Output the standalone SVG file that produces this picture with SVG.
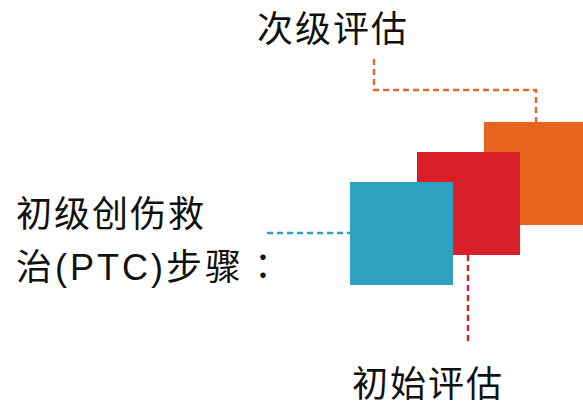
<svg xmlns="http://www.w3.org/2000/svg" width="583" height="405" viewBox="0 0 583 405">
<style>
text{font-family:"Liberation Sans","Noto Sans CJK SC",sans-serif;font-size:36px;fill:#111}
.d{fill:none;stroke-width:2.4;stroke-dasharray:6 4}
</style>
<rect width="583" height="405" fill="#fff"/>
<g id="connectors">
<path class="d" stroke="#E8662A" d="M374 59V90H536V122"/>
<path class="d" stroke="#D92029" d="M468 255V342"/>
<path class="d" stroke="#2BA2C0" d="M267 233H350"/>
</g>
<g id="node-secondary"><rect x="484" y="122" width="103" height="103" fill="#E8641E"/></g>
<g id="node-initial"><rect x="417" y="152" width="103" height="103" fill="#D91F28"/></g>
<g id="node-ptc"><rect x="350" y="182" width="103" height="103" fill="#2CA2C0"/></g>
<g id="labels">
<text x="257" y="42" letter-spacing="2">次级评估</text>
<text x="352" y="397" letter-spacing="2">初始评估</text>
<text x="16" y="227" letter-spacing="2">初级创伤救</text>
<text x="16" y="280" letter-spacing="3">治(PTC)步骤<tspan x="245" style="font-family:'Noto Sans CJK TC',sans-serif">：</tspan></text>
</g>
</svg>
